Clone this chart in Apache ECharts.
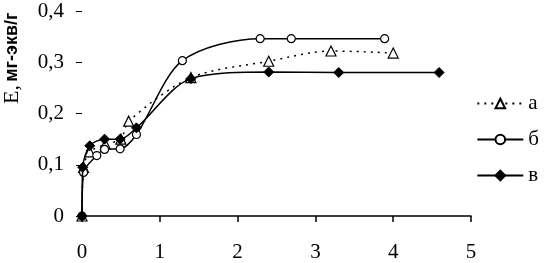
<!DOCTYPE html>
<html>
<head>
<meta charset="utf-8">
<script src="https://cdn.jsdelivr.net/npm/echarts@6/dist/echarts.min.js"></script>
<style>
html, body { margin: 0; padding: 0; background: #fff; }
#chart { width: 546px; height: 263px; }
</style>
</head>
<body>
<div id="chart"></div>
<script>
// данные: [x, E]
const seriesNames = ['а', 'б', 'в'];
const dataA = [[0, 0], [0.02, 0.095], [0.1, 0.125], [0.3, 0.14], [0.5, 0.15], [0.6, 0.185], [1.4, 0.27], [2.4, 0.302], [3.2, 0.322], [4.0, 0.318]];
const dataB = [[0, 0], [0.02, 0.085], [0.19, 0.118], [0.29, 0.13], [0.49, 0.131], [0.7, 0.159], [1.29, 0.303], [2.29, 0.346], [2.69, 0.346], [3.89, 0.346]];
const dataC = [[0, 0], [0.01, 0.095], [0.1, 0.137], [0.29, 0.15], [0.49, 0.15], [0.7, 0.172], [1.4, 0.268], [2.4, 0.281], [3.3, 0.28], [4.59, 0.28]];
const xTicks = [0, 1, 2, 3, 4, 5];
const yTicks = [0, 0.1, 0.2, 0.3, 0.4];

const serif = '"Liberation Serif", "Times New Roman", serif';

const chart = echarts.init(document.getElementById('chart'));

chart.setOption({
    animation: false,
    backgroundColor: '#fff',
    grid: { left: 82, right: 75, top: 11, bottom: 46 },
    xAxis: {
        type: 'value',
        min: xTicks[0],
        max: xTicks[xTicks.length - 1],
        interval: 1,
        splitLine: { show: false },
        axisLine: { lineStyle: { color: '#000', width: 1.5 } },
        axisTick: { show: true, length: 6, lineStyle: { color: '#000', width: 1.5 } },
        axisLabel: { color: '#000', fontFamily: serif, fontSize: 21, margin: 26 }
    },
    yAxis: {
        type: 'value',
        min: yTicks[0],
        max: yTicks[yTicks.length - 1],
        interval: 0.1,
        splitLine: { show: false },
        axisLine: { show: false },
        axisTick: { show: true, length: 6, lineStyle: { color: '#000', width: 1 } },
        axisLabel: {
            color: '#000', fontFamily: serif, fontSize: 21, margin: 18,
            formatter: v => String(Math.round(v * 10) / 10).replace('.', ',')
        }
    },
    legend: {
        orient: 'vertical',
        right: 2,
        top: 88,
        itemWidth: 46,
        itemHeight: 12,
        itemGap: 15,
        textStyle: { color: '#000', fontFamily: serif, fontSize: 21, lineHeight: 20 },
        data: seriesNames
    },
    graphic: [{
        type: 'text',
        x: 12,
        y: 104,
        rotation: Math.PI / 2,
        style: {
            text: '{e|E,} {u|мг-экв/г}',
            align: 'left',
            verticalAlign: 'middle',
            fill: '#000',
            rich: {
                e: { fontFamily: serif, fontSize: 22, fill: '#000' },
                u: { fontFamily: '"Liberation Sans", Arial, sans-serif', fontWeight: 'bold', fontSize: 18, fill: '#000' }
            }
        }
    }],
    series: [
        {
            name: seriesNames[0],
            type: 'line',
            data: dataA,
            smooth: 0.3,
            symbol: 'triangle',
            symbolSize: 10,
            lineStyle: { color: '#000', width: 1.5, type: [2, 5] },
            itemStyle: { color: '#fff', borderColor: '#000', borderWidth: 1.2 },
            z: 2
        },
        {
            name: seriesNames[1],
            type: 'line',
            data: dataB,
            smooth: 0.3,
            symbol: 'circle',
            symbolSize: 8,
            lineStyle: { color: '#000', width: 1.5 },
            itemStyle: { color: '#fff', borderColor: '#000', borderWidth: 1.2 },
            z: 3
        },
        {
            name: seriesNames[2],
            type: 'line',
            data: dataC,
            smooth: 0.3,
            symbol: 'diamond',
            symbolSize: 10,
            lineStyle: { color: '#000', width: 1.5 },
            itemStyle: { color: '#000', borderColor: '#000', borderWidth: 1 },
            z: 4
        }
    ]
});

window.addEventListener('resize', function() {
    chart.resize();
});
</script>
</body>
</html>
